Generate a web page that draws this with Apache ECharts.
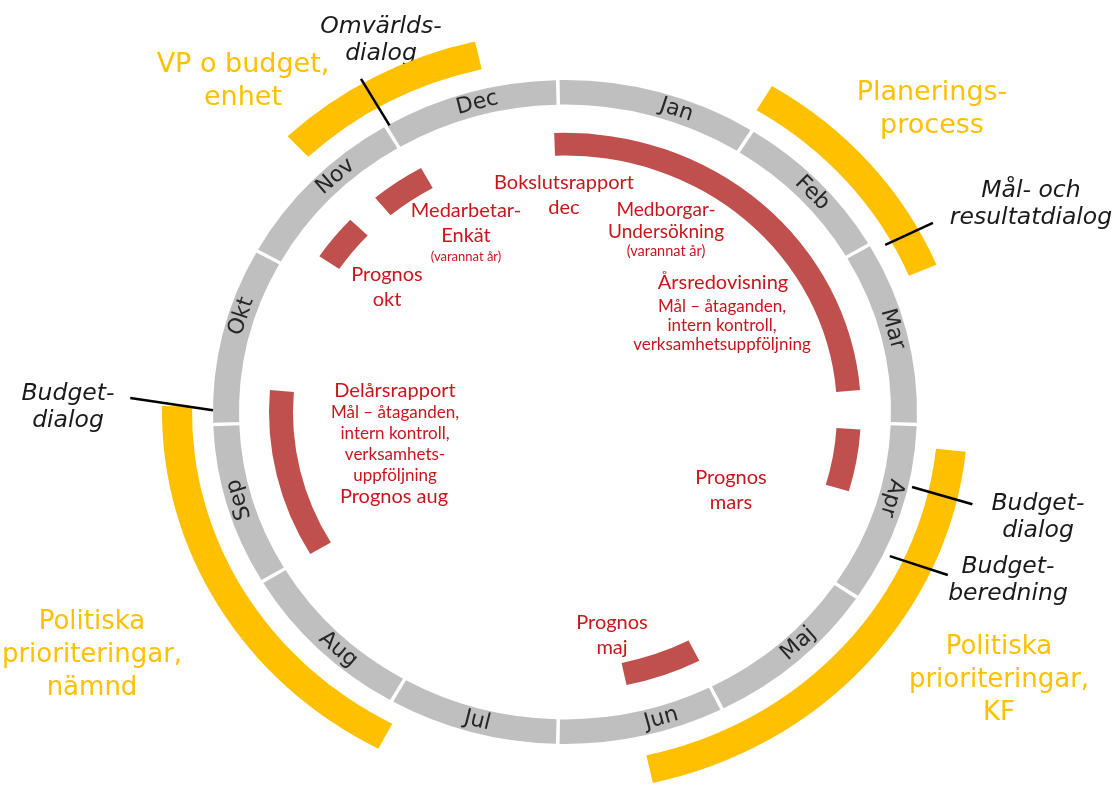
<!DOCTYPE html>
<html><head><meta charset="utf-8">
<script src="https://cdn.jsdelivr.net/npm/echarts@6/dist/echarts.min.js"></script>
<style>html,body{margin:0;padding:0;background:#fff}#c{width:1114px;height:785px}</style>
</head><body><div id="c"></div>
<script>
// ---- data ----
const months = ['Jan','Feb','Mar','Apr','Maj','Jun','Jul','Aug','Sep','Okt','Nov','Dec'];
// red activity arcs (month units, Jan start = 0)
const redNames = ['Årsredovisning','Prognos mars','Prognos maj','Delårsrapport','Prognos okt','Medarbetar-Enkät'];
const redStart = [-0.07, 3.12, 5.1, 7.98, 10.13, 10.67];
const redEnd   = [2.85, 3.55, 5.6, 9.15, 10.45, 11.03];
// yellow process arcs
const yellowNames = ['VP o budget, enhet','Planeringsprocess','Politiska prioriteringar, KF','Politiska prioriteringar, nämnd'];
const yellowStart = [10.55, 1.03, 3.2, 6.92];
const yellowEnd   = [11.57, 2.24, 5.58, 9.03];
// dialogue markers
const markerNames = ['Omvärldsdialog','Mål- och resultatdialog','Budgetdialog','Budgetberedning','Budgetdialog'];
const markerMonthIn  = [11.0, 2.035, 3.43, 3.84, 9.01];
const markerMonthOut = [11.0, 2.047, 3.45, 3.81, 9.065];

// ---- layout ----
const K = 0.943; // vertical squash of the wheel
const RAD = {ringIn: 326, ringOut: 352, redIn: 272, redOut: 296, yelIn: 373, yelOut: 403, label: 339};
const GAP_CENTER = [558, 424]; // month dividers radiate from this point in the drawing
const DIVIDER_DEG = [0, 33.5, 60, 90, 120, 150, 180, 211, 242, 270, 300, 330, 360];
const markerRIn  = [351, 366, 356, 359, 352];
const markerROut = [408, 419, 419, 420, 435];
const labelPos = [0.64, 1.56, 2.5, 3.52, 4.55, 5.45, 6.5, 7.4, 8.47, 9.58, 10.58, 11.5];
const GAP = 0.01;
const flipped = [4,5,6,7];

const chart = echarts.init(document.getElementById('c'));

// month boundary i expressed on the wheel's angle axis
function boundary(i, cx, cy) {
  const th = DIVIDER_DEG[i] / 180 * Math.PI;
  const dx = Math.sin(th), dy = -Math.cos(th);
  const gx = GAP_CENTER[0] - cx, gy = GAP_CENTER[1] - cy, Rm = RAD.label;
  const a = dx*dx + dy*dy/(K*K);
  const b = 2*(gx*dx + gy*dy/(K*K));
  const c = gx*gx + gy*gy/(K*K) - Rm*Rm;
  const s = (-b + Math.sqrt(b*b - 4*a*c)) / (2*a);
  const px = gx + s*dx, py = gy + s*dy;
  let m = Math.atan2(px, -py/K) / (Math.PI*2) * 12;
  while (m < i - 6) m += 12;
  while (m > i + 6) m -= 12;
  return m;
}

function arcShape(params, api, m1, m2, rIn, rOut) {
  const cx = params.coordSys.cx, cy = params.coordSys.cy;
  const p1 = api.coord([rOut, m1]), p2 = api.coord([rOut, m2]), p0 = api.coord([rIn, m1]);
  let a1 = Math.atan2(p1[1]-cy, p1[0]-cx), a2 = Math.atan2(p2[1]-cy, p2[0]-cx);
  while (a2 <= a1) a2 += Math.PI*2;
  return {cx, cy, r: Math.hypot(p1[0]-cx, p1[1]-cy), r0: Math.hypot(p0[0]-cx, p0[1]-cy),
          startAngle: a1, endAngle: a2, clockwise: true};
}
function squash(params, p) {
  const cy = params.coordSys.cy;
  return [p[0], cy + (p[1]-cy)*K];
}
function arcSeries(starts, ends, rIn, rOut, color) {
  return {
    type: 'custom', coordinateSystem: 'polar', silent: true,
    data: starts.map((s, i) => [s, ends[i]]),
    renderItem: (params, api) => {
      const shape = arcShape(params, api, api.value(0), api.value(1), rIn, rOut);
      return {type: 'sector', shape, style: {fill: color}, scaleY: K, originX: shape.cx, originY: shape.cy};
    }
  };
}

const ringSeries = {
  type: 'custom', coordinateSystem: 'polar', silent: true,
  data: months.map((m, i) => [i, i+1]),
  renderItem: (params, api) => {
    const i = params.dataIndex;
    const cx = params.coordSys.cx, cy = params.coordSys.cy;
    const m1 = boundary(api.value(0), cx, cy), m2 = boundary(api.value(1), cx, cy);
    const shape = arcShape(params, api, m1 + GAP, m2 - GAP, RAD.ringIn, RAD.ringOut);
    const mc = labelPos[i];
    const p = squash(params, api.coord([RAD.label, mc]));
    const t = mc/12*Math.PI*2;
    let phi = Math.atan2(K*Math.sin(t), Math.cos(t));
    if (flipped.indexOf(i) >= 0) phi -= Math.PI;
    return {type: 'group', children: [
      {type: 'sector', shape, style: {fill: '#BFBFBF'}, scaleY: K, originX: shape.cx, originY: shape.cy},
      {type: 'text', x: p[0], y: p[1], rotation: -phi,
       style: {text: months[i], fill: '#262626', fontSize: 22, fontFamily: 'DejaVu Sans',
               align: 'center', verticalAlign: 'middle'}}
    ]};
  }
};

const markerSeries = {
  type: 'custom', coordinateSystem: 'polar', silent: true,
  data: markerMonthIn.map((m, i) => [m, markerMonthOut[i]]),
  renderItem: (params, api) => {
    const i = params.dataIndex;
    const a = squash(params, api.coord([markerRIn[i], api.value(0)]));
    const b = squash(params, api.coord([markerROut[i], api.value(1)]));
    return {type: 'line', shape: {x1: a[0], y1: a[1], x2: b[0], y2: b[1]},
            style: {stroke: '#000', lineWidth: 2.5}};
  }
};

function txt(x, y, text, o) {
  return {type: 'text', x, y, silent: true, style: Object.assign({
    text, align: 'center', verticalAlign: 'middle', textAlign: 'center', textVerticalAlign: 'middle'
  }, o)};
}
const RED = '#C8161D';
const Y = {fill: '#FFC000', fontSize: 27, fontFamily: 'DejaVu Sans', lineHeight: 33};
const Y2 = {fill: '#FFC000', fontSize: 26, fontFamily: 'DejaVu Sans', lineHeight: 33};
const B = {fill: '#1a1a1a', fontSize: 23.5, fontFamily: 'DejaVu Sans', fontStyle: 'italic', lineHeight: 27};
const Rb = {fill: RED, fontSize: 20, fontFamily: 'Lato', lineHeight: 25};
const Rm = {fill: RED, fontSize: 19, fontFamily: 'Lato', lineHeight: 22};
const Rs = {fill: RED, fontSize: 17, fontFamily: 'Lato', lineHeight: 20};
const Rt = {fill: RED, fontSize: 13, fontFamily: 'Lato'};

const labels = [
  txt(243, 81, 'VP o budget,\nenhet', Y),
  txt(932, 109, 'Planerings-\nprocess', Y),
  txt(92, 655, 'Politiska\nprioriteringar,\nnämnd', Y2),
  txt(999, 680, 'Politiska\nprioriteringar,\nKF', Y2),
  txt(381, 40, 'Omvärlds-\ndialog', B),
  txt(1031, 204, 'Mål- och\nresultatdialog', B),
  txt(1038, 517, 'Budget-\ndialog', B),
  txt(1008, 580, 'Budget-\nberedning', B),
  txt(68, 407, 'Budget-\ndialog', B),
  txt(564, 195, 'Bokslutsrapport\ndec', Rb),
  txt(466, 223, 'Medarbetar-\nEnkät', Rb),
  txt(466, 257, '(varannat år)', Rt),
  txt(666, 221, 'Medborgar-\nUndersökning', Rm),
  txt(666, 251, '(varannat år)', Object.assign({}, Rt, {fontSize: 14.5})),
  txt(723, 283, 'Årsredovisning', Rb),
  txt(722, 326, 'Mål – åtaganden,\nintern kontroll,\nverksamhetsuppföljning', Object.assign({}, Rs, {lineHeight: 19})),
  txt(395, 391, 'Delårsrapport', Rb),
  txt(395, 444, 'Mål – åtaganden,\nintern kontroll,\nverksamhets-\nuppföljning', Object.assign({}, Rs, {lineHeight: 20.7})),
  txt(394, 497, 'Prognos aug', Rb),
  txt(387, 287, 'Prognos\nokt', Rb),
  txt(731, 490, 'Prognos\nmars', Rb),
  txt(612, 635, 'Prognos\nmaj', Rb)
];

chart.setOption({
  backgroundColor: '#fff',
  animation: false,
  polar: {center: [565, 412], radius: 420},
  angleAxis: {type: 'value', min: 0, max: 12, startAngle: 90, clockwise: true,
    axisLine: {show: false}, axisTick: {show: false}, axisLabel: {show: false}, splitLine: {show: false}},
  radiusAxis: {type: 'value', min: 0, max: 420,
    axisLine: {show: false}, axisTick: {show: false}, axisLabel: {show: false}, splitLine: {show: false}},
  graphic: {elements: labels},
  series: [
    ringSeries,
    arcSeries(redStart, redEnd, RAD.redIn, RAD.redOut, '#C0504D'),
    arcSeries(yellowStart, yellowEnd, RAD.yelIn, RAD.yelOut, '#FFC000'),
    markerSeries
  ]
});
</script></body></html>
